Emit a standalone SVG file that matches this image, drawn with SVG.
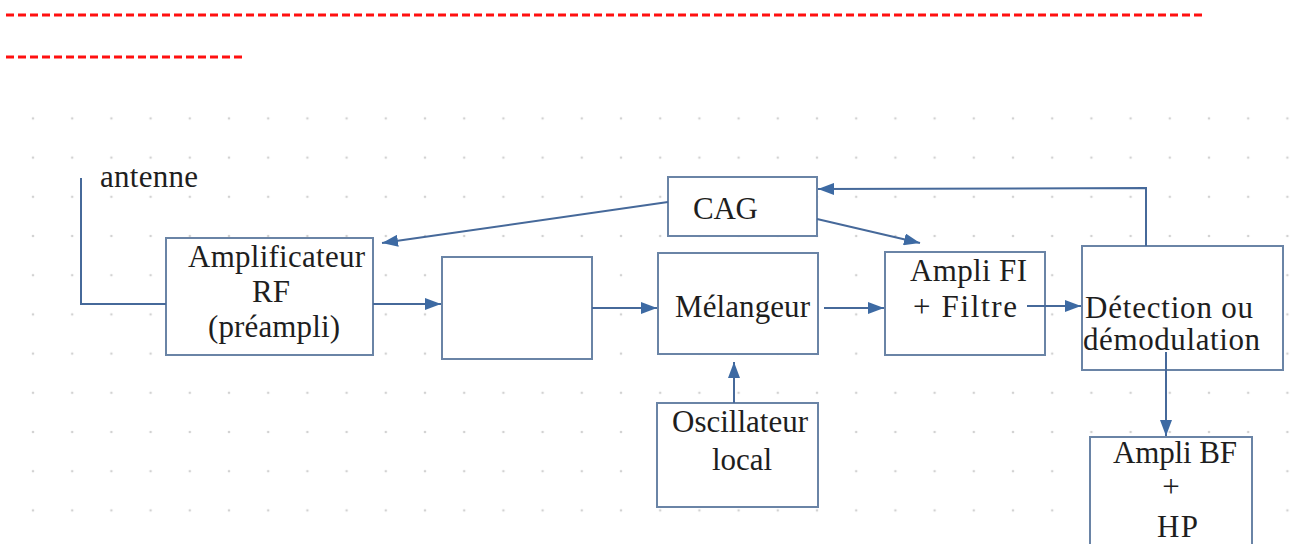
<svg xmlns="http://www.w3.org/2000/svg" width="1296" height="544" viewBox="0 0 1296 544">
  <style>
    .box { fill: #ffffff; stroke: #6a84a6; stroke-width: 2; }
    .wire { fill: none; stroke: #46699a; stroke-width: 2; }
    .lbl { font-family: "Liberation Serif", "DejaVu Serif", serif; font-size: 31px; fill: #1e1e1e; }
    .rule { stroke: #ff1010; stroke-width: 3; stroke-dasharray: 8 4; }
  </style>
  <defs>
    <pattern id="dots" patternUnits="userSpaceOnUse" x="13.4" y="98.8" width="39.2" height="39.2">
      <circle cx="19.6" cy="19.6" r="1.3" fill="#d2d2d2"/>
    </pattern>
    <marker id="arrow" viewBox="0 0 16 12" refX="16" refY="6" markerWidth="16" markerHeight="12" markerUnits="userSpaceOnUse" orient="auto">
      <path d="M0,0 L16,6 L0,12 Z" fill="#3d6aa3"/>
    </marker>
  </defs>

  <rect width="1296" height="544" fill="#ffffff"/>
  <!-- dotted background grid -->
  <rect x="0" y="98" width="1296" height="446" fill="url(#dots)"/>

  <!-- red separator rules -->
  <line class="rule" x1="6" y1="15" x2="1206" y2="15"/>
  <line class="rule" x1="6" y1="57" x2="243" y2="57"/>

  <!-- antenna label -->
  <g id="antenne">
    <text class="lbl" x="100" y="187" textLength="98" lengthAdjust="spacing">antenne</text>
  </g>

  <g id="ampli-rf">
    <rect class="box" x="166" y="238" width="207" height="117"/>
    <text class="lbl" x="188" y="267" textLength="177" lengthAdjust="spacing">Amplificateur</text>
    <text class="lbl" x="252" y="302" textLength="38" lengthAdjust="spacing">RF</text>
    <text class="lbl" x="208" y="337" textLength="132" lengthAdjust="spacing">(préampli)</text>
  </g>

  <g id="bloc-vide">
    <rect class="box" x="442" y="257" width="150" height="102"/>
  </g>

  <g id="cag">
    <rect class="box" x="668" y="177" width="149" height="59"/>
    <text class="lbl" x="693" y="219" textLength="65" lengthAdjust="spacing">CAG</text>
  </g>

  <g id="melangeur">
    <rect class="box" x="658" y="253" width="160" height="101"/>
    <text class="lbl" x="675" y="317" textLength="135" lengthAdjust="spacing">Mélangeur</text>
  </g>

  <g id="oscillateur">
    <rect class="box" x="657" y="403" width="161" height="104"/>
    <text class="lbl" x="672" y="432" textLength="136" lengthAdjust="spacing">Oscillateur</text>
    <text class="lbl" x="712" y="470" textLength="60" lengthAdjust="spacing">local</text>
  </g>

  <g id="ampli-fi">
    <rect class="box" x="885" y="252" width="160" height="103"/>
    <text class="lbl" x="910" y="281" textLength="117" lengthAdjust="spacing">Ampli FI</text>
    <text class="lbl" x="913" y="317" textLength="104" lengthAdjust="spacing">+ Filtre</text>
  </g>

  <g id="detection">
    <rect class="box" x="1082" y="246" width="201" height="124"/>
    <text class="lbl" x="1085" y="318" textLength="168" lengthAdjust="spacing">Détection ou</text>
    <text class="lbl" x="1083" y="350" textLength="177" lengthAdjust="spacing">démodulation</text>
  </g>

  <g id="ampli-bf">
    <rect class="box" x="1090" y="437" width="162" height="120"/>
    <text class="lbl" x="1113" y="463" textLength="124" lengthAdjust="spacing">Ampli BF</text>
    <text class="lbl" x="1171" y="497" text-anchor="middle">+</text>
    <text class="lbl" x="1157" y="537" textLength="41" lengthAdjust="spacing">HP</text>
  </g>

  <!-- connectors, drawn over the blocks -->
  <g id="connectors">
    <polyline class="wire" points="81,178 81,304 166,304"/>
    <line class="wire" x1="373" y1="304" x2="441" y2="304" marker-end="url(#arrow)"/>
    <line class="wire" x1="592" y1="308" x2="657" y2="308" marker-end="url(#arrow)"/>
    <line class="wire" x1="824" y1="308" x2="884" y2="308" marker-end="url(#arrow)"/>
    <line class="wire" x1="1027" y1="306" x2="1081" y2="306" marker-end="url(#arrow)"/>
    <polyline class="wire" points="1146,246 1146,188 818,189" marker-end="url(#arrow)"/>
    <line class="wire" x1="668" y1="202" x2="382" y2="243" marker-end="url(#arrow)"/>
    <line class="wire" x1="817" y1="219" x2="920" y2="243" marker-end="url(#arrow)"/>
    <line class="wire" x1="734" y1="403" x2="734" y2="362" marker-end="url(#arrow)"/>
    <line class="wire" x1="1166" y1="352" x2="1166" y2="436" marker-end="url(#arrow)"/>
  </g>
</svg>
